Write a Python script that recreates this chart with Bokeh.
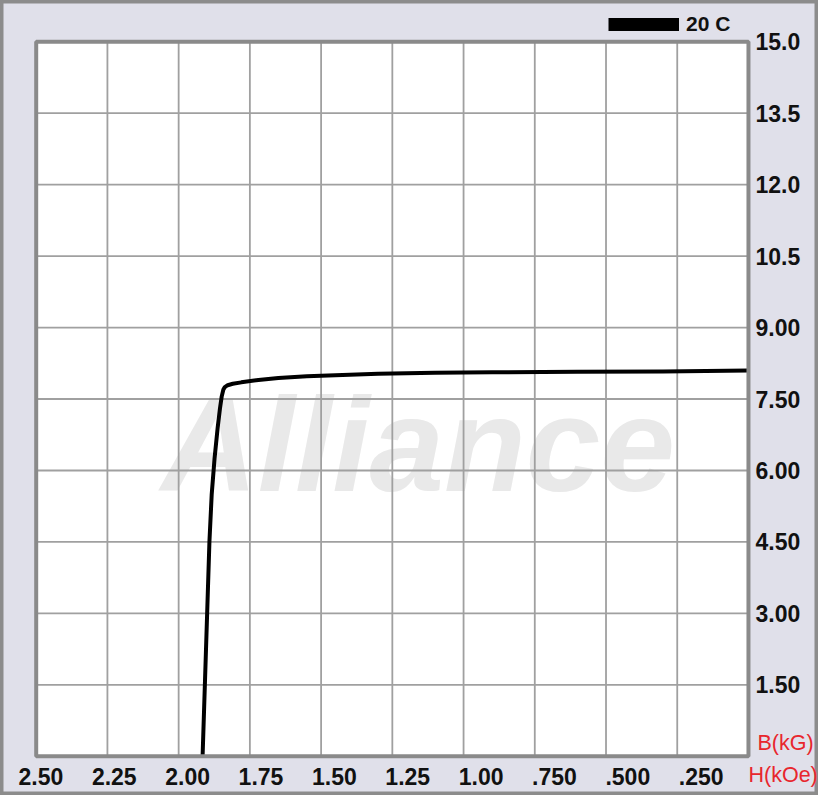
from bokeh.plotting import figure
from bokeh.models import Range1d, Legend, LegendItem
from bokeh.core.properties import value
from bokeh.embed import file_html
from bokeh.resources import INLINE

# ---- data ----
h_koe = [0.0, 0.3, 0.6, 0.9, 1.1, 1.3, 1.45, 1.55, 1.65, 1.72, 1.78, 1.81, 1.828, 1.838,
         1.843, 1.849, 1.855, 1.863, 1.874, 1.884, 1.892, 1.900, 1.908, 1.916]
b_kg = [8.10, 8.08, 8.07, 8.06, 8.05, 8.03, 8.00, 7.98, 7.94, 7.90, 7.85, 7.82, 7.79, 7.75,
        7.70, 7.55, 7.30, 6.90, 6.25, 5.50, 4.50, 3.00, 1.50, 0.0]

x_ticks = [2.5, 2.25, 2.0, 1.75, 1.5, 1.25, 1.0, 0.75, 0.5, 0.25]
x_tick_labels = ["2.50", "2.25", "2.00", "1.75", "1.50", "1.25", "1.00", ".750", ".500", ".250"]
y_ticks = [1.5, 3.0, 4.5, 6.0, 7.5, 9.0, 10.5, 12.0, 13.5, 15.0]
y_tick_labels = ["1.50", "3.00", "4.50", "6.00", "7.50", "9.00", "10.5", "12.0", "13.5", "15.0"]
x_limits = [2.5, 0.0]
y_limits = [0.0, 15.0]
series_name = "20 C"
watermark = "Alliance"
x_unit = "H(kOe)"
y_unit = "B(kG)"

# ---- styles / layout ----
FONT = value("Liberation Sans")
BG = "#e0e0ea"
GRID = "#a0a0a0"
FRAME = "#8a8a8a"
RED = "#e8262d"
LAB_ROW = -0.43          # data row of the H tick labels (below the plot area)
UNIT_B_ROW = 0.27        # B(kG) sits just above the zero line
LAB_STRETCH, LAB_START = 1.030, 2.4835   # label spacing of the original is a bit wider than the grid

p = figure(width=818, height=795,
           x_range=Range1d(2.6253, -0.2458), y_range=Range1d(-0.823, 15.866),
           x_axis_location=None, y_axis_location=None,
           toolbar_location=None, output_backend="svg", min_border=0)
p.grid.visible = False
p.background_fill_color = BG
p.border_fill_color = BG
p.outline_line_color = "#8c8c8c"
p.outline_line_width = 6

x_hi, x_lo = x_limits
y_lo, y_hi = y_limits

# white plot area
p.quad(left=[x_hi], right=[x_lo], bottom=[y_lo], top=[y_hi],
       fill_color="white", line_color=None)

# watermark (under the grid)
p.text(x=[(x_hi + x_lo) / 2 - 0.09], y=[6.54], text=[watermark], text_align="center",
       text_baseline="alphabetic", text_font=FONT, text_font_style="bold italic",
       text_font_size="134px", text_color="#e9e9e9")

# grid
p.segment(x0=x_ticks, x1=x_ticks, y0=[y_lo] * len(x_ticks), y1=[y_hi] * len(x_ticks),
          line_color=GRID, line_width=1.8)
p.segment(x0=[x_hi] * len(y_ticks), x1=[x_lo] * len(y_ticks), y0=y_ticks, y1=y_ticks,
          line_color=GRID, line_width=1.8)

# curve
p.line(h_koe, b_kg, line_width=4, line_color="black", line_join="round")

# plot-area frame
p.quad(left=[x_hi], right=[x_lo], bottom=[y_lo], top=[y_hi],
       fill_color=None, line_color=FRAME, line_width=4)

# tick labels
p.text(x=[x_lo] * len(y_ticks), y=y_ticks, text=y_tick_labels, x_offset=7,
       text_align="left", text_baseline="middle", text_font=FONT,
       text_font_style="bold", text_font_size="23px", text_color="#111111")
lab_x = [LAB_START - LAB_STRETCH * (x_hi - t) for t in x_ticks]
p.text(x=lab_x, y=[LAB_ROW] * len(x_ticks), text=x_tick_labels,
       text_align="center", text_baseline="middle", text_font=FONT,
       text_font_style="bold", text_font_size="23px", text_color="#111111")

# unit labels
p.text(x=[x_lo], y=[UNIT_B_ROW], text=[y_unit], x_offset=9, text_align="left",
       text_baseline="middle", text_font=FONT, text_font_size="21.5px", text_color=RED)
p.text(x=[x_lo], y=[LAB_ROW + 0.04], text=[x_unit], x_offset=0, text_align="left",
       text_baseline="middle", text_font=FONT, text_font_size="21.5px", text_color=RED)

# legend (zero-length sample line carries the thick legend bar)
dummy = p.line(x=[h_koe[0], h_koe[0]], y=[b_kg[0], b_kg[0]], line_width=13,
               line_color="black", line_cap="butt")
legend = Legend(items=[LegendItem(label=series_name, renderers=[dummy])],
                location=(608, 759), orientation="horizontal",
                glyph_width=71, glyph_height=16, label_standoff=7,
                padding=0, margin=0, spacing=0,
                border_line_color=None, background_fill_alpha=0,
                label_text_font="Liberation Sans", label_text_font_style="bold",
                label_text_font_size="21px", label_text_color="#111111")
p.add_layout(legend)

open("out.html", "w").write(file_html(p, INLINE))
